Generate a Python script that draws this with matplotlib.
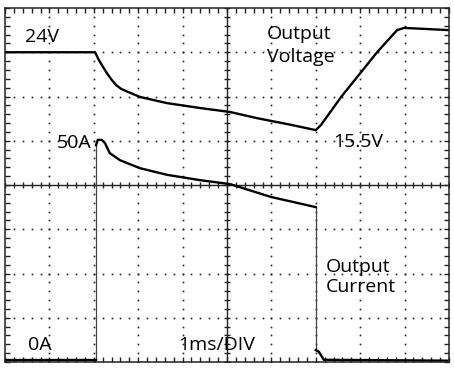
import numpy as np
import matplotlib.pyplot as plt

# scope screen: 10 x 8 divisions, 1ms/DIV
# output voltage trace (div units)
v_t = [0.0, 2.03, 2.10, 2.20, 2.30, 2.40, 2.50, 2.62, 2.78, 3.04, 3.65, 4.39, 5.07, 5.68, 6.44, 7.0,
       7.12, 7.57, 8.02, 8.38, 8.83, 8.99, 10.0]
v_y = [7.0, 7.0, 6.85, 6.68, 6.52, 6.38, 6.26, 6.17, 6.10, 5.99, 5.85, 5.74, 5.65, 5.51, 5.36, 5.24,
       5.36, 5.99, 6.55, 7.0, 7.50, 7.55, 7.50]

# output current trace (div units)
i_off1_t = [0.0, 2.05]
i_off1_y = [0.05, 0.05]
i_on_t = [2.05, 2.09, 2.18, 2.25, 2.36, 2.59, 3.04, 3.65, 4.39, 5.07, 5.99, 7.0]
i_on_y = [4.90, 5.02, 5.02, 4.95, 4.72, 4.56, 4.38, 4.23, 4.11, 4.02, 3.73, 3.50]
i_off2_t = [7.0, 7.07, 7.18, 10.0]
i_off2_y = [0.27, 0.23, 0.05, 0.03]

plt.rcParams['font.family'] = ['Open Sans', 'DejaVu Sans']

fig = plt.figure(figsize=(4.54, 3.70), dpi=100)
ax = fig.add_axes([5/454, 1-362/370, 444/454, 354/370])
ax.set_xlim(0, 10)
ax.set_ylim(0, 8)

# graticule
minor_x = np.arange(0, 10.001, 0.2)
minor_y = np.arange(0, 8.001, 0.2)
for gx in range(1, 10):
    if gx == 5:
        continue
    ax.plot([gx]*len(minor_y), minor_y, ls='none', marker='s', ms=1.2, color='#222222', mew=0)
for gy in range(1, 8):
    if gy == 4:
        continue
    ax.plot(minor_x, [gy]*len(minor_x), ls='none', marker='s', ms=1.2, color='#222222', mew=0)
ax.axvline(5, color='#222222', lw=1.0)
ax.axhline(4, color='#222222', lw=1.0)
ax.plot([5]*len(minor_y), minor_y, ls='none', marker='_', ms=5, mew=1.0, color='#222222')
ax.plot(minor_x, [4]*len(minor_x), ls='none', marker='|', ms=5, mew=1.0, color='#222222')

ax.set_xticks(minor_x)
ax.set_yticks(minor_y)
ax.tick_params(direction='in', length=3.5, width=1.0, top=True, right=True,
               labelbottom=False, labelleft=False, color='#222222')
for s in ax.spines.values():
    s.set_linewidth(1.1)
    s.set_color('#222222')

# traces
ax.plot(v_t, v_y, color='black', lw=1.7, solid_joinstyle='round')
ax.plot([i_off1_t[-1], i_on_t[0]], [i_off1_y[-1], i_on_y[0]], color='#444444', lw=0.9)
ax.plot([i_on_t[-1], i_off2_t[0]], [i_on_y[-1], i_off2_y[0]], color='#444444', lw=0.9)
ax.plot(i_off1_t, i_off1_y, color='black', lw=1.7)
ax.plot(i_on_t, i_on_y, color='black', lw=1.7, solid_joinstyle='round')
ax.plot(i_off2_t, i_off2_y, color='black', lw=1.7)

fs = 14
tc = '#000000'
ax.text(0.45, 7.23, '24V', fontsize=fs, color=tc, va='baseline')
ax.text(1.17, 4.84, '50A', fontsize=fs, color=tc, va='baseline')
ax.text(5.9, 7.30, 'Output', fontsize=fs, color=tc, va='baseline')
ax.text(5.9, 6.78, 'Voltage', fontsize=fs, color=tc, va='baseline')
ax.text(7.39, 4.86, '15.5V', fontsize=fs, color=tc, va='baseline')
ax.text(0.52, 0.27, '0A', fontsize=fs, color=tc, va='baseline')
ax.text(3.9, 0.27, '1ms/DIV', fontsize=fs, color=tc, va='baseline')
ax.text(7.23, 2.03, 'Output', fontsize=fs, color=tc, va='baseline')
ax.text(7.23, 1.58, 'Current', fontsize=fs, color=tc, va='baseline')

fig.savefig('out.png', dpi=100)
